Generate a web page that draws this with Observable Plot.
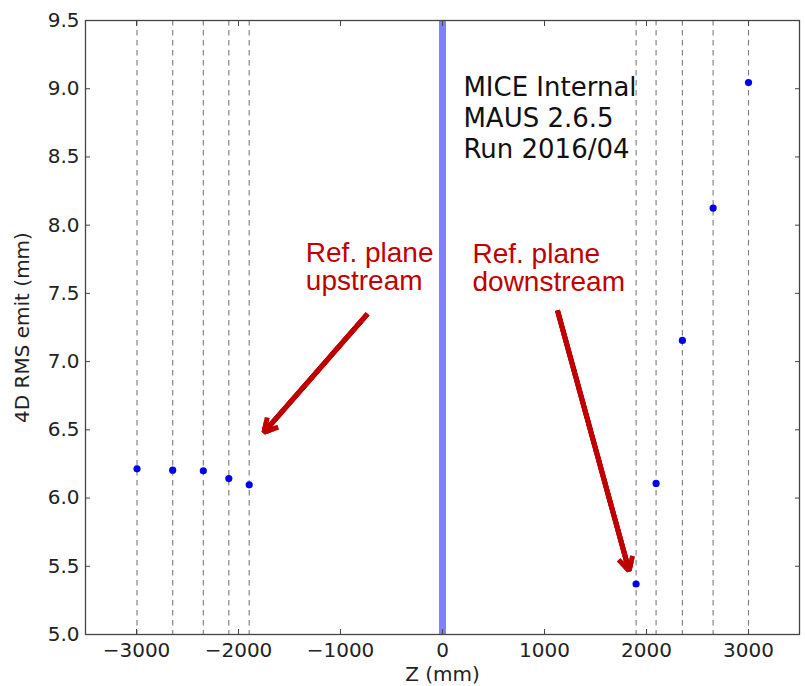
<!DOCTYPE html>
<html><head><meta charset="utf-8">
<script src="https://cdn.jsdelivr.net/npm/d3@7"></script>
<script src="https://cdn.jsdelivr.net/npm/@observablehq/plot@0.6"></script>
<style>body{margin:0;background:#fff} #chart svg{display:block}</style>
</head><body><div id="chart"></div>
<script>
// Tracker station positions (mm) and 4D RMS emittance (mm)
const upstreamZ = [-2995, -2645, -2345, -2095, -1895];
const upstreamEmit = [6.214, 6.204, 6.200, 6.143, 6.097];
const downstreamZ = [1898, 2094, 2352, 2653, 3000];
const downstreamEmit = [5.37, 6.107, 7.155, 8.125, 9.045];

const xTicks = [-3000, -2000, -1000, 0, 1000, 2000, 3000];
const yTicks = [5.0, 5.5, 6.0, 6.5, 7.0, 7.5, 8.0, 8.5, 9.0, 9.5];

const infoLines = ["MICE Internal", "MAUS 2.6.5", "Run 2016/04"];
const infoZ = [205];
const infoEmit = [9.105];

const refLabels = ["Ref. plane\nupstream", "Ref. plane\ndownstream"];
const refLabelZ = [-1340, 294];
const refLabelEmit = [7.875, 7.87];

const arrowStartZ = [-735, 1127];
const arrowStartEmit = [7.35, 7.375];
const arrowEndZ = [-1749, 1829];
const arrowEndEmit = [6.483, 5.469];

const points = upstreamZ.map((z, i) => ({z, emit: upstreamEmit[i]}))
  .concat(downstreamZ.map((z, i) => ({z, emit: downstreamEmit[i]})));
const planes = upstreamZ.concat(downstreamZ);
const info = [{t: infoLines.join("\n"), z: infoZ[0], emit: infoEmit[0]}];
const labels = refLabels.map((t, i) => ({t, z: refLabelZ[i], emit: refLabelEmit[i]}));
const arrows = arrowStartZ.map((z, i) => ({x1: z, y1: arrowStartEmit[i], x2: arrowEndZ[i], y2: arrowEndEmit[i]}));

const fmtX = d => d < 0 ? "\u2212" + Math.abs(d) : String(d);
const fmtY = d => d.toFixed(1);
const axisFont = "DejaVu Sans, sans-serif";
const red = "#c00000";
const arrowOpts = {x1: "x1", y1: "y1", x2: "x2", y2: "y2", stroke: red, strokeWidth: 5, headAngle: 58, strokeLinejoin: "miter", strokeLinecap: "butt"};

const chart = Plot.plot({
  width: 805,
  height: 686,
  marginLeft: 85,
  marginRight: 6,
  marginTop: 20,
  marginBottom: 52,
  style: {fontFamily: axisFont, fontSize: "20px", color: "#222", background: "#fff"},
  x: {domain: [-3500, 3500]},
  y: {domain: [5.0, 9.5]},
  marks: [
    Plot.ruleX(planes, {x: d => d, stroke: "#7a7a7a", strokeWidth: 1.1, strokeDasharray: "5.5,4.5"}),
    Plot.ruleX([0], {x: d => d, stroke: "#0000ff", strokeOpacity: 0.5, strokeWidth: 7}),
    Plot.dot(points, {x: "z", y: "emit", r: 3.6, fill: "#0000ee", stroke: null}),
    Plot.text(info, {x: "z", y: "emit", text: "t", textAnchor: "start", lineAnchor: "top", lineHeight: 1.18, fontSize: 26, fontFamily: axisFont, fill: "#111"}),
    Plot.text(labels, {x: "z", y: "emit", text: "t", textAnchor: "start", lineAnchor: "top", lineHeight: 1.0, fontSize: 28, fontFamily: "Liberation Sans, Arial, sans-serif", fill: red}),
    Plot.arrow(arrows, {...arrowOpts, headLength: 4.5, ariaLabel: "arrow-main"}),
    Plot.arrow(arrows, {...arrowOpts, headLength: 3, ariaLabel: "arrow-fill"}),
    Plot.arrow(arrows, {...arrowOpts, headLength: 1.6, ariaLabel: "arrow-fill"}),
    Plot.frame({stroke: "#444", strokeWidth: 1.3}),
    Plot.axisX(xTicks, {anchor: "bottom", tickSize: 0, tickPadding: 8, tickFormat: fmtX, fontSize: 20, label: "Z (mm)", labelAnchor: "center", labelArrow: "none", labelOffset: 46}),
    Plot.axisX(xTicks, {anchor: "bottom", tickSize: -5, fill: "none", stroke: "#444", label: null}),
    Plot.axisX(xTicks, {anchor: "top", tickSize: -5, fill: "none", stroke: "#444", label: null}),
    Plot.axisY(yTicks, {anchor: "left", tickSize: 0, tickPadding: 6, tickFormat: fmtY, fontSize: 20, label: "4D RMS emit (mm)", labelAnchor: "center", labelArrow: "none", labelOffset: 71}),
    Plot.axisY(yTicks, {anchor: "left", tickSize: -5, fill: "none", stroke: "#444", label: null}),
    Plot.axisY(yTicks, {anchor: "right", tickSize: -5, fill: "none", stroke: "#444", label: null})
  ]
});
const mainArrow = chart.querySelector('g[aria-label="arrow-main"]');
if (mainArrow) mainArrow.style.filter = "drop-shadow(2px 3px 2px rgba(0,0,0,0.35))";
document.getElementById("chart").appendChild(chart);
</script>
</body></html>
